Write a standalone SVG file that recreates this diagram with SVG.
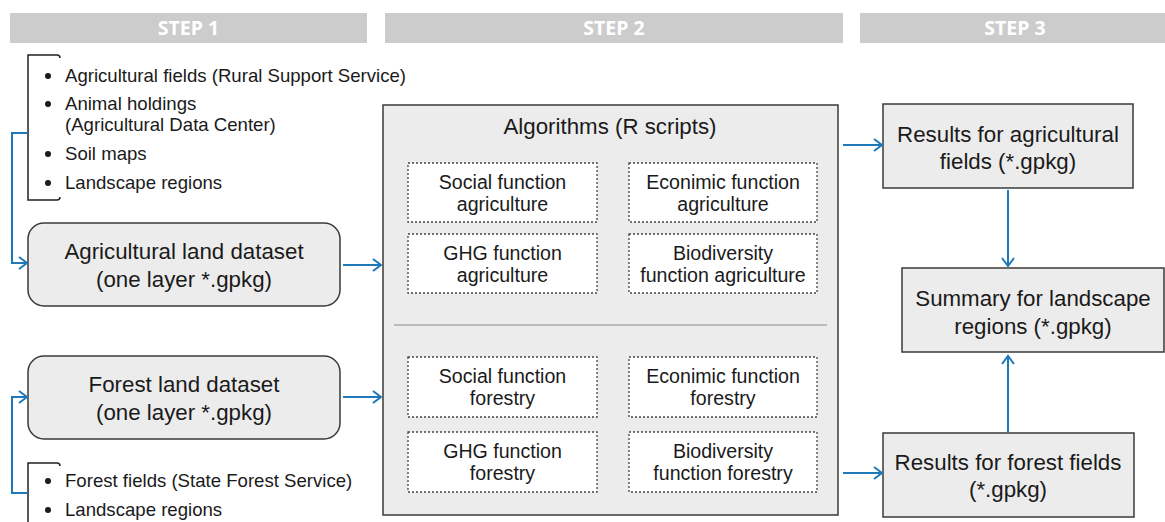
<svg xmlns="http://www.w3.org/2000/svg" width="1165" height="522" viewBox="0 0 1165 522">
<defs>
<marker id="arr" markerUnits="userSpaceOnUse" markerWidth="14" markerHeight="16" refX="11" refY="7" orient="auto" viewBox="0 0 14 14">
<path d="M3,1 L11,7 L3,13" fill="none" stroke="#1f78b8" stroke-width="2"/>
</marker>
<style>
.hdr{fill:#cccccc}
.htx{font-family:"Open Sans","Liberation Sans",sans-serif;font-weight:bold;font-size:19.5px;fill:#ffffff;text-anchor:middle}
.t{font-family:"Liberation Sans",Arial,sans-serif;fill:#1a1a1a}
.bl{font-size:18.6px}
.big{font-size:22.3px;text-anchor:middle}
.mid{font-size:19.6px;text-anchor:middle}
.box{fill:#ececec;stroke:#3a3a3a;stroke-width:1.5}
.dash{fill:#ffffff;stroke:#444;stroke-width:1.3;stroke-dasharray:2 2}
.brk{fill:none;stroke:#222;stroke-width:1.5}
.con{fill:none;stroke:#1f78b8;stroke-width:2}
</style>
</defs>
<rect width="1165" height="522" fill="#ffffff"/>

<g id="headers">
<rect class="hdr" x="10" y="13" width="357" height="30"/>
<text class="htx" x="188.5" y="35">STEP 1</text>
<rect class="hdr" x="385" y="13" width="458" height="30"/>
<text class="htx" x="614" y="35">STEP 2</text>
<rect class="hdr" x="860" y="13" width="305" height="30"/>
<text class="htx" x="1015" y="35">STEP 3</text>
</g>

<g id="agri-sources">
<path class="brk" d="M60,58 Q60,55 57,55 L28,55 L28,200 L57,200 Q60,200 60,197"/>
<g fill="#1a1a1a">
<circle cx="48" cy="76" r="3"/>
<circle cx="48" cy="104" r="3"/>
<circle cx="48" cy="154" r="3"/>
<circle cx="48" cy="183" r="3"/>
</g>
<text class="t bl" x="65" y="82">Agricultural fields (Rural Support Service)</text>
<text class="t bl" x="65" y="110">Animal holdings</text>
<text class="t bl" x="65" y="131">(Agricultural Data Center)</text>
<text class="t bl" x="65" y="160">Soil maps</text>
<text class="t bl" x="65" y="189">Landscape regions</text>
</g>

<g id="forest-sources">
<path class="brk" d="M60,466 Q60,463 57,463 L28,463 L28,522"/>
<g fill="#1a1a1a">
<circle cx="48" cy="481" r="3"/>
<circle cx="48" cy="510" r="3"/>
</g>
<text class="t bl" x="65" y="487">Forest fields (State Forest Service)</text>
<text class="t bl" x="65" y="516">Landscape regions</text>
</g>

<g id="agri-dataset">
<rect class="box" x="28" y="223" width="312" height="83" rx="16"/>
<text class="t big" x="184" y="259">Agricultural land dataset</text>
<text class="t big" x="184" y="287">(one layer *.gpkg)</text>
</g>

<g id="forest-dataset">
<rect class="box" x="28" y="356" width="312" height="83" rx="16"/>
<text class="t big" x="184" y="392">Forest land dataset</text>
<text class="t big" x="184" y="420">(one layer *.gpkg)</text>
</g>

<g id="algorithms">
<rect class="box" x="383" y="105" width="455" height="410"/>
<text class="t big" x="610" y="134">Algorithms (R scripts)</text>
<line x1="394" y1="325" x2="827" y2="325" stroke="#aaaaaa" stroke-width="1.5"/>
</g>

<g id="social-agri">
<rect class="dash" x="408" y="163" width="189" height="59"/>
<text class="t mid" x="502.5" y="189">Social function</text>
<text class="t mid" x="502.5" y="211">agriculture</text>
</g>
<g id="economic-agri">
<rect class="dash" x="629" y="163" width="188" height="59"/>
<text class="t mid" x="723" y="189">Econimic function</text>
<text class="t mid" x="723" y="211">agriculture</text>
</g>
<g id="ghg-agri">
<rect class="dash" x="408" y="234" width="189" height="59"/>
<text class="t mid" x="502.5" y="260">GHG function</text>
<text class="t mid" x="502.5" y="282">agriculture</text>
</g>
<g id="bio-agri">
<rect class="dash" x="629" y="234" width="188" height="59"/>
<text class="t mid" x="723" y="260">Biodiversity</text>
<text class="t mid" x="723" y="282">function agriculture</text>
</g>
<g id="social-forest">
<rect class="dash" x="408" y="357" width="189" height="60"/>
<text class="t mid" x="502.5" y="383">Social function</text>
<text class="t mid" x="502.5" y="405">forestry</text>
</g>
<g id="economic-forest">
<rect class="dash" x="629" y="357" width="188" height="60"/>
<text class="t mid" x="723" y="383">Econimic function</text>
<text class="t mid" x="723" y="405">forestry</text>
</g>
<g id="ghg-forest">
<rect class="dash" x="408" y="432" width="189" height="60"/>
<text class="t mid" x="502.5" y="458">GHG function</text>
<text class="t mid" x="502.5" y="480">forestry</text>
</g>
<g id="bio-forest">
<rect class="dash" x="629" y="432" width="188" height="60"/>
<text class="t mid" x="723" y="458">Biodiversity</text>
<text class="t mid" x="723" y="480">function forestry</text>
</g>

<g id="results-agri">
<rect class="box" x="883" y="104" width="250" height="84"/>
<text class="t big" x="1008" y="142">Results for agricultural</text>
<text class="t big" x="1008" y="169">fields (*.gpkg)</text>
</g>
<g id="summary">
<rect class="box" x="902" y="268" width="262" height="84"/>
<text class="t big" x="1033" y="306">Summary for landscape</text>
<text class="t big" x="1033" y="334">regions (*.gpkg)</text>
</g>
<g id="results-forest">
<rect class="box" x="883" y="433" width="251" height="84"/>
<text class="t big" x="1008" y="470">Results for forest fields</text>
<text class="t big" x="1008" y="497">(*.gpkg)</text>
</g>

<g id="connectors">
<path class="con" d="M28,133 L12,133 L12,263 L27,263" marker-end="url(#arr)"/>
<path class="con" d="M28,493 L12,493 L12,397 L27,397" marker-end="url(#arr)"/>
<path class="con" d="M343,265 L381,265" marker-end="url(#arr)"/>
<path class="con" d="M343,397 L381,397" marker-end="url(#arr)"/>
<path class="con" d="M843,145 L882,145" marker-end="url(#arr)"/>
<path class="con" d="M843,473 L882,473" marker-end="url(#arr)"/>
<path class="con" d="M1008,190 L1008,266" marker-end="url(#arr)"/>
<path class="con" d="M1008,432 L1008,356" marker-end="url(#arr)"/>
</g>
</svg>
